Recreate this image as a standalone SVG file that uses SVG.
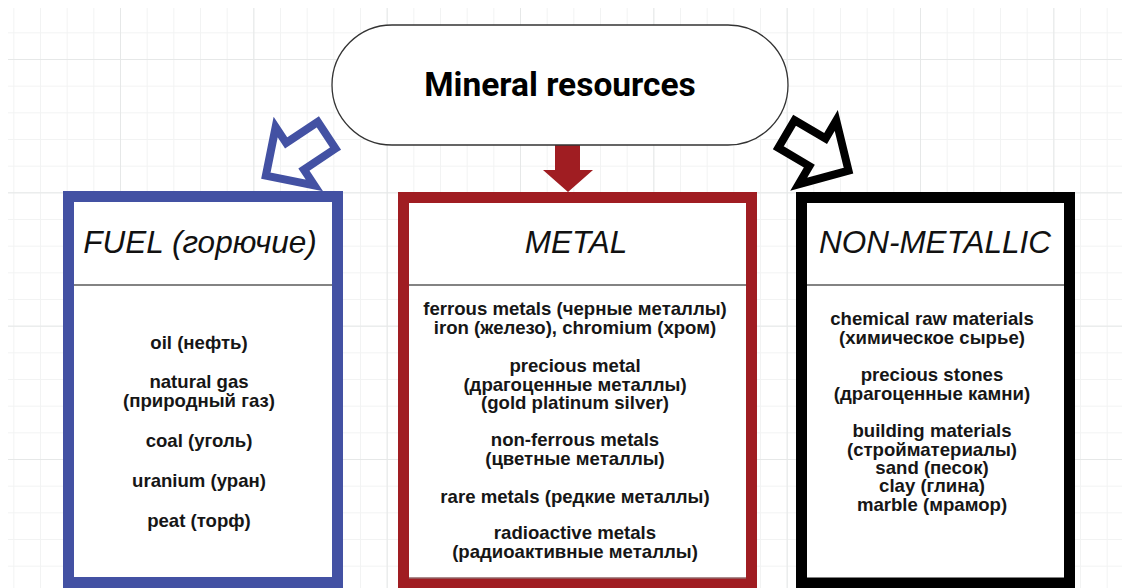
<svg xmlns="http://www.w3.org/2000/svg" width="1122" height="588" viewBox="0 0 1122 588">
<defs>
<pattern id="gridMinor" patternUnits="userSpaceOnUse" x="13.33" y="32.33" width="26.667" height="26.667">
<path d="M0 0.5 H26.667 M0.5 0 V26.667" fill="none" stroke="#f2f3f3" stroke-width="1"/>
</pattern>
<pattern id="gridMajor" patternUnits="userSpaceOnUse" x="120" y="59" width="133.333" height="133.333">
<path d="M0 0.5 H133.333 M0.5 0 V133.333" fill="none" stroke="#e6e8e8" stroke-width="1"/>
</pattern>
<style>
.hdr{font-family:"Liberation Sans",Arial,sans-serif;font-style:italic;font-size:31.5px;fill:#111;text-anchor:middle}
.body{font-family:"Liberation Sans",Arial,sans-serif;font-weight:bold;font-size:18.6px;fill:#161616;text-anchor:middle}
.div{stroke:#5a5a5a;stroke-width:1.5}
.box{fill:#fff;stroke-width:11}
</style>
</defs>
<rect width="1122" height="588" fill="#fff"/>
<rect x="8" y="8" width="1114" height="580" fill="url(#gridMinor)"/>
<rect x="8" y="8" width="1114" height="580" fill="url(#gridMajor)"/>

<g id="connectors">
<polygon points="4,-16 42,-16 42,-35 77,0 42,35 42,16 4,16" transform="translate(330,133) rotate(146.4)" fill="none" stroke="#4351A3" stroke-width="8" stroke-linejoin="miter"/>
<polygon points="555,140 580,140 580,170 593,170 568,192 543,170 555,170" fill="#A01D22"/>
<polygon points="4,-16 40,-16 40,-37 76,0 40,37 40,16 4,16" transform="translate(783,132) rotate(30.5)" fill="none" stroke="#000" stroke-width="8" stroke-linejoin="miter"/>
</g>

<g id="mineral-resources">
<rect x="332" y="25" width="456" height="120" rx="60" ry="60" fill="#fff" stroke="#333" stroke-width="1.3"/>
<text x="560" y="96" font-family="Roboto,'Liberation Sans',sans-serif" font-weight="bold" font-size="33.5" fill="#000" text-anchor="middle">Mineral resources</text>
</g>

<g id="fuel">
<rect class="box" x="68.5" y="196.5" width="269" height="386" stroke="#4351A3"/>
<line class="div" x1="74" y1="285" x2="332" y2="285"/>
<text class="hdr" x="200" y="253">FUEL (горючие)</text>
<text class="body" x="199" y="349">oil (нефть)</text>
<text class="body" x="199" y="388">natural gas</text>
<text class="body" x="199" y="407">(природный газ)</text>
<text class="body" x="199" y="447">coal (уголь)</text>
<text class="body" x="199" y="487">uranium (уран)</text>
<text class="body" x="199" y="527">peat (торф)</text>
</g>

<g id="metal">
<rect class="box" x="403.5" y="197.5" width="348" height="385.5" stroke="#A01D22"/>
<line class="div" x1="409" y1="285" x2="746" y2="285"/>
<line x1="409" y1="578" x2="746" y2="578" stroke="#888" stroke-width="1"/>
<text class="hdr" x="576" y="253">METAL</text>
<text class="body" x="575" y="315">ferrous metals (черные металлы)</text>
<text class="body" x="575" y="334">iron (железо), chromium (хром)</text>
<text class="body" x="575" y="372">precious metal</text>
<text class="body" x="575" y="391">(драгоценные металлы)</text>
<text class="body" x="575" y="409">(gold platinum silver)</text>
<text class="body" x="575" y="446">non-ferrous metals</text>
<text class="body" x="575" y="465">(цветные металлы)</text>
<text class="body" x="575" y="503">rare metals (редкие металлы)</text>
<text class="body" x="575" y="539">radioactive metals</text>
<text class="body" x="575" y="558">(радиоактивные металлы)</text>
</g>

<g id="non-metallic">
<rect class="box" x="801.5" y="197.5" width="268" height="385.5" stroke="#000"/>
<line class="div" x1="807" y1="285" x2="1064" y2="285"/>
<text class="hdr" x="935" y="253">NON-METALLIC</text>
<text class="body" x="932" y="325">chemical raw materials</text>
<text class="body" x="932" y="344">(химическое сырье)</text>
<text class="body" x="932" y="381">precious stones</text>
<text class="body" x="932" y="400">(драгоценные камни)</text>
<text class="body" x="932" y="437">building materials</text>
<text class="body" x="932" y="456">(стройматериалы)</text>
<text class="body" x="932" y="474">sand (песок)</text>
<text class="body" x="932" y="492">clay (глина)</text>
<text class="body" x="932" y="511">marble (мрамор)</text>
</g>
</svg>
